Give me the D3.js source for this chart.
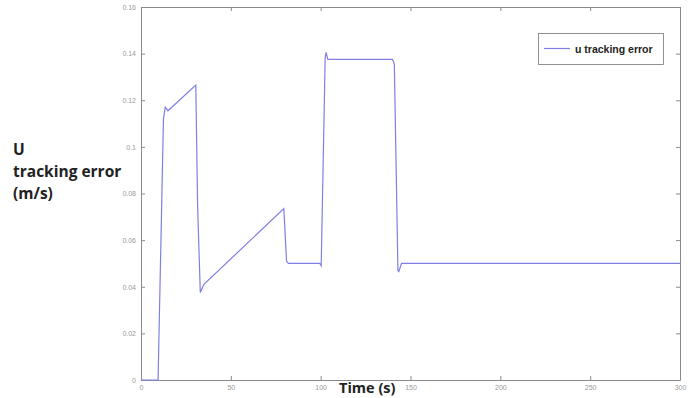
<!DOCTYPE html>
<html><head><meta charset="utf-8">
<script src="https://cdn.jsdelivr.net/npm/d3@7/dist/d3.min.js"></script>
<style>body{margin:0;background:#fff}svg{display:block}</style>
</head><body>
<script>
const timeValues = [0, 9.5, 12.5, 13.5, 15, 30.5, 31.5, 33, 35, 79.5, 81, 82, 99.5, 100.3, 102.5, 103, 104, 140, 141, 143, 143.5, 145, 300];
const errorValues = [0, 0, 0.112, 0.117, 0.1155, 0.1265, 0.075, 0.0375, 0.041, 0.0735, 0.051, 0.05, 0.05, 0.049, 0.138, 0.1405, 0.1375, 0.1375, 0.1355, 0.047, 0.0465, 0.05, 0.05];
const xTicks = [0, 50, 100, 150, 200, 250, 300];
const yTicks = [0, 0.02, 0.04, 0.06, 0.08, 0.1, 0.12, 0.14, 0.16];
const yTickLabels = ["0", "0.02", "0.04", "0.06", "0.08", "0.1", "0.12", "0.14", "0.16"];
const seriesName = "u tracking error";

const W = 693, H = 398;
const m = {l: 141, r: 13, t: 7, b: 18};
const svg = d3.select("body").append("svg").attr("width", W).attr("height", H);
const x = d3.scaleLinear().domain([0, 300]).range([m.l, W - m.r]);
const y = d3.scaleLinear().domain([0, 0.16]).range([H - m.b, m.t]);
const axisColor = "#8a8a8a";

function styleAxis(g) {
  g.selectAll("path.domain").attr("stroke", axisColor);
  g.selectAll(".tick line").attr("stroke", axisColor);
  g.selectAll("text").attr("fill", "#999").style("font-family", "Liberation Sans, Arial, sans-serif").style("font-size", "7px");
}
const xb = svg.append("g").attr("transform", `translate(0,${y(0)})`)
  .call(d3.axisBottom(x).tickValues(xTicks).tickSize(-4).tickPadding(5).tickSizeOuter(0));
styleAxis(xb);
const xt = svg.append("g").attr("transform", `translate(0,${y(0.16)})`)
  .call(d3.axisTop(x).tickValues(xTicks).tickSize(-4).tickFormat("").tickSizeOuter(0));
styleAxis(xt);
const yl = svg.append("g").attr("transform", `translate(${x(0)},0)`)
  .call(d3.axisLeft(y).tickValues(yTicks).tickSize(-4).tickPadding(5).tickSizeOuter(0)
    .tickFormat((d, i) => yTickLabels[i]));
styleAxis(yl);
const yr = svg.append("g").attr("transform", `translate(${x(300)},0)`)
  .call(d3.axisRight(y).tickValues(yTicks).tickSize(-4).tickFormat("").tickSizeOuter(0));
styleAxis(yr);

const data = timeValues.map((t, i) => [t, errorValues[i]]);
svg.append("path").datum(data)
  .attr("fill", "none").attr("stroke", "#7f7fe6").attr("stroke-width", 1.2)
  .attr("d", d3.line().x(d => x(d[0])).y(d => y(d[1])));

// legend
const lg = svg.append("g");
lg.append("rect").attr("x", 538.5).attr("y", 33.5).attr("width", 125).attr("height", 31)
  .attr("fill", "#fff").attr("stroke", "#777").attr("stroke-width", 0.8);
lg.append("line").attr("x1", 544).attr("x2", 570).attr("y1", 48.5).attr("y2", 48.5)
  .attr("stroke", "#7f7fe6").attr("stroke-width", 1.2);
lg.append("text").attr("x", 575).attr("y", 52.5).text(seriesName)
  .style("font-family", "Liberation Sans, Arial, sans-serif").style("font-weight", "bold")
  .style("font-size", "10.5px").attr("fill", "#222");

// axis titles
const yt = svg.append("text").style("font-family", "Open Sans, sans-serif").style("font-weight", "bold")
  .style("font-size", "15.5px").attr("fill", "#222");
[["U", 155], ["tracking error", 177], ["(m/s)", 199]].forEach(([s, yy]) =>
  yt.append("tspan").attr("x", 13).attr("y", yy).text(s));
svg.append("text").attr("x", 339).attr("y", 393).text("Time (s)")
  .style("font-family", "Open Sans, sans-serif").style("font-weight", "bold")
  .style("font-size", "14.5px").attr("fill", "#222");
</script>
</body></html>
